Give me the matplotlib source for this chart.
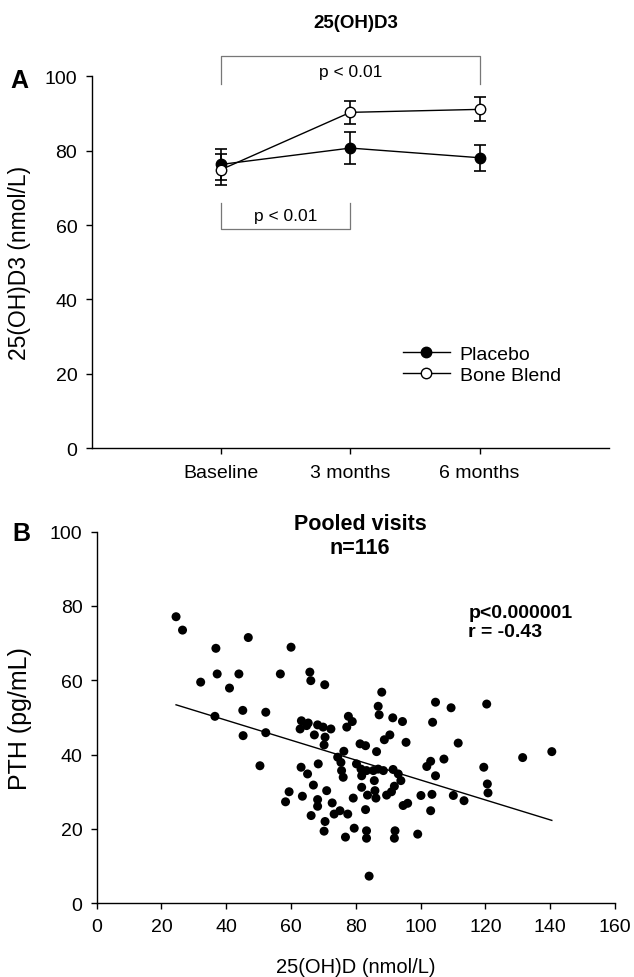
import matplotlib
matplotlib.use("Agg")
import matplotlib.pyplot as plt
from matplotlib.lines import Line2D

plt.rcParams["font.family"] = ["Liberation Sans", "DejaVu Sans"]

# panel A: 25(OH)D3 over visits
visits = ["Baseline", "3 months", "6 months"]
visit_pos = [1, 2, 3]
placebo_mean = [76.3, 80.7, 78.1]
placebo_err = [4.2, 4.3, 3.5]
bone_mean = [74.9, 90.3, 91.1]
bone_err = [4.1, 3.0, 3.2]

# panel B: pooled visits, PTH vs 25(OH)D
vitd = [24.5, 26.5, 36.8, 46.8, 60.0, 32.1, 37.2, 43.9, 41.0, 56.7, 65.8, 66.1, 70.4,
        36.5, 45.1, 52.2, 45.2, 52.2, 50.4,
        63.2, 65.3, 62.8, 64.8, 68.2, 69.9, 72.3, 67.2, 70.5, 70.2,
        86.9, 87.2, 91.4, 94.4, 77.7, 78.9, 77.2,
        90.5, 88.8, 95.5, 81.3, 83.0, 86.4, 76.3, 74.4, 75.4,
        63.1, 68.4, 65.1, 75.6, 76.1,
        80.2, 81.6, 81.8, 83.3, 85.4, 86.9, 88.5,
        91.5, 93.1, 93.9, 85.7, 66.9, 81.8,
        91.9, 91.0, 89.5, 85.9, 86.2, 83.6, 71.0, 63.5, 79.2,
        68.2, 68.2, 72.7, 94.6, 96.0, 100.1,
        83.0, 66.2, 73.3, 75.1, 77.5, 70.5, 70.2, 79.5, 76.8, 83.3, 83.3, 92.1, 91.9, 99.1,
        59.4, 58.3, 88.0, 84.1,
        104.6, 109.4, 120.4, 103.7, 111.6, 131.5, 140.5, 119.5, 107.2, 103.1, 101.9,
        104.6, 120.6, 120.8, 110.1, 113.4, 103.5, 103.1]
pth = [77.1, 73.5, 68.6, 71.5, 68.9, 59.5, 61.7, 61.7, 57.9, 61.7, 62.2, 59.9, 58.8,
       50.3, 51.9, 51.4, 45.1, 45.9, 37.0,
       49.1, 48.5, 46.9, 47.8, 48.0, 47.4, 46.9, 45.3, 44.7, 42.6,
       53.0, 50.7, 49.9, 48.9, 50.3, 48.9, 47.4,
       45.3, 44.0, 43.3, 42.9, 42.4, 40.8, 40.9, 39.3, 37.9,
       36.6, 37.5, 34.8, 35.7, 33.9,
       37.5, 36.1, 34.3, 35.7, 35.7, 36.1, 35.7,
       36.0, 34.8, 33.0, 33.0, 31.8, 31.2,
       31.5, 30.0, 29.1, 30.3, 28.3, 29.1, 30.3, 28.8, 28.3,
       27.9, 26.1, 27.0, 26.3, 26.9, 29.0,
       25.2, 23.6, 24.0, 24.9, 24.0, 22.0, 19.4, 20.2, 17.8, 19.5, 17.5, 19.5, 17.5, 18.6,
       30.0, 27.3, 56.8, 7.3,
       54.1, 52.6, 53.6, 48.7, 43.1, 39.2, 40.8, 36.6, 38.8, 38.2, 36.8,
       34.3, 32.1, 29.7, 29.0, 27.6, 29.3, 24.9]
fit_x = [24.5, 140.5]
fit_y = [53.4, 22.3]

fig = plt.figure(figsize=(6.34, 9.78), dpi=100)


def style_axes(ax):
    for side in ("top", "right"):
        ax.spines[side].set_visible(False)
    for side in ("left", "bottom"):
        ax.spines[side].set_linewidth(1.0)
    ax.tick_params(direction="out", length=4.3, width=1.0, labelsize=14)
    ax.tick_params(axis="y", pad=6)


# ---- panel A
ax1 = fig.add_axes([0.1446, 0.5406, 0.816, 0.3804])
ax1.errorbar(visit_pos, placebo_mean, yerr=placebo_err, color="black", lw=1.0,
             marker="o", ms=7.5, mfc="black", mec="black", capsize=4.3,
             elinewidth=1.2, capthick=1.2, zorder=3)
ax1.errorbar(visit_pos, bone_mean, yerr=bone_err, color="black", lw=1.0,
             marker="o", ms=7.5, mfc="white", mec="black", capsize=4.3,
             elinewidth=1.2, capthick=1.2, zorder=4)
ax1.set_xlim(0, 4)
ax1.set_ylim(0, 100)
ax1.set_xticks(visit_pos)
ax1.set_xticklabels(visits)
ax1.set_yticks(range(0, 101, 20))
style_axes(ax1)
ax1.tick_params(axis="x", pad=7)
ax1.set_ylabel("25(OH)D3 (nmol/L)", fontsize=16.5, va="center")
ax1.yaxis.set_label_coords(-0.139, 0.5)

# significance brackets
ax1.plot([1, 1, 3, 3], [97.9, 105.4, 105.4, 97.9], color="#777777", lw=0.9,
         clip_on=False)
ax1.text(2.0, 101.2, "p < 0.01", ha="center", va="center", fontsize=12.5)
ax1.plot([1, 1, 2, 2], [65.9, 59.0, 59.0, 65.9], color="#777777", lw=0.9)
ax1.text(1.5, 62.5, "p < 0.01", ha="center", va="center", fontsize=12.5)

handles = [
    Line2D([], [], color="black", lw=1.0, marker="o", ms=7.5, mfc="black", mec="black"),
    Line2D([], [], color="black", lw=1.0, marker="o", ms=7.5, mfc="white", mec="black"),
]
ax1.legend(handles, ["Placebo", "Bone Blend"], loc="center left",
           bbox_to_anchor=(0.602, 0.225), frameon=False, fontsize=14,
           handlelength=2.4, handletextpad=0.5, labelspacing=0.2,
           borderpad=0, borderaxespad=0)

fig.text(356 / 634, 1 - 24 / 978, "25(OH)D3", ha="center", va="center",
         fontsize=13.5, fontweight="bold")
fig.text(19 / 634, 1 - 80.5 / 978, "A", ha="center", va="center",
         fontsize=18, fontweight="bold")

# ---- panel B
ax2 = fig.add_axes([0.1525, 0.0754, 0.8175, 0.380])
ax2.scatter(vitd, pth, s=42, color="black", edgecolors="none", zorder=3)
ax2.plot(fit_x, fit_y, color="black", lw=1.0)
ax2.set_xlim(0, 160)
ax2.set_ylim(0, 100)
ax2.set_xticks(range(0, 161, 20))
ax2.set_yticks(range(0, 101, 20))
style_axes(ax2)
ax2.tick_params(axis="x", pad=6)
ax2.set_ylabel("PTH (pg/mL)", fontsize=18, va="center")
ax2.yaxis.set_label_coords(-0.148, 0.5)
ax2.set_xlabel("25(OH)D (nmol/L)", fontsize=14.5, va="center")
ax2.xaxis.set_label_coords(0.5, -0.171)

ax2.text(0.508, 1.05, "Pooled visits\nn=116", transform=ax2.transAxes,
         ha="center", va="top", fontsize=15.5, fontweight="bold")
ax2.text(0.717, 0.806, "p<0.000001\nr = -0.43", transform=ax2.transAxes,
         ha="left", va="top", fontsize=14, fontweight="bold")

fig.text(21 / 634, 1 - 534.3 / 978, "B", ha="center", va="center",
         fontsize=18, fontweight="bold")

fig.savefig("out.png", dpi=100)
